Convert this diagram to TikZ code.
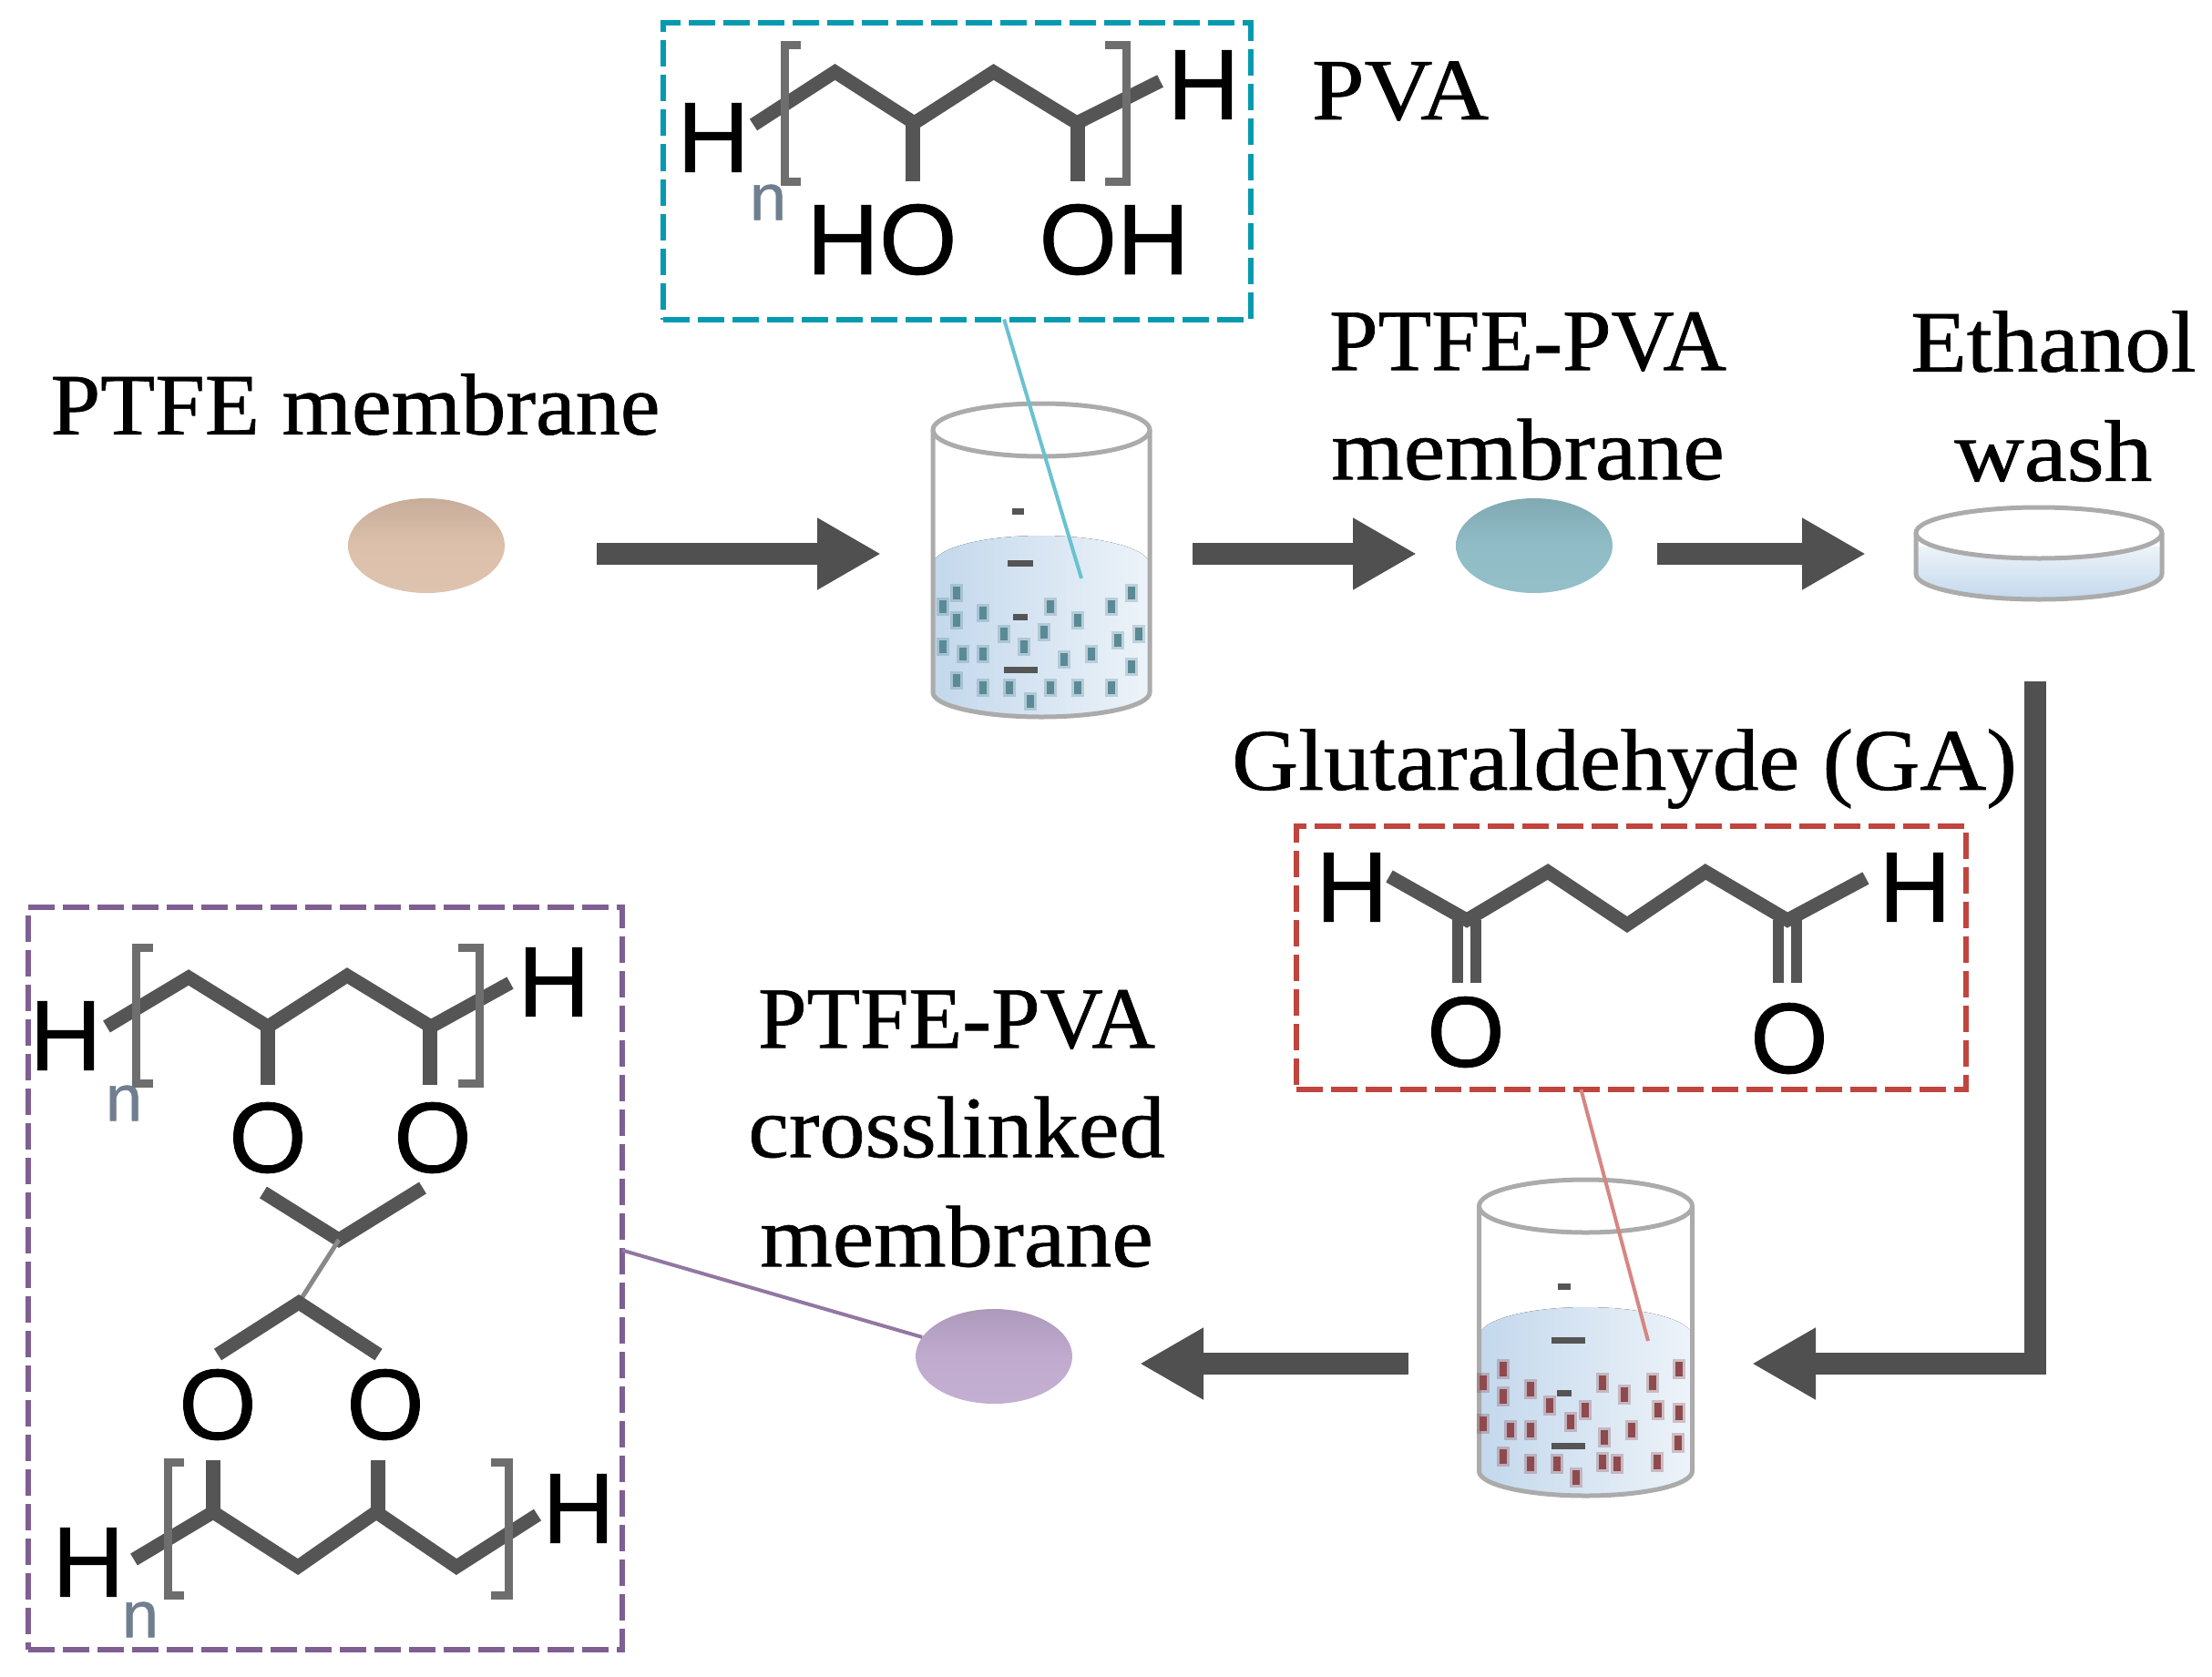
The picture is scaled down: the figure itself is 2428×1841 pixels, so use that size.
\documentclass[tikz,border=0pt]{standalone}
\usepackage{graphicx}
\usepackage{fontspec}
\setmainfont[FakeBold=0.7]{Liberation Serif}
\newfontfamily\chemfont[FakeBold=0.7]{Liberation Sans}
\usetikzlibrary{arrows.meta,calc,shapes.geometric}
\definecolor{bondc}{HTML}{555555}
\definecolor{arrowc}{HTML}{505050}
\definecolor{rimc}{HTML}{ABABAB}
\definecolor{tealc}{HTML}{069AB0}
\definecolor{redc}{HTML}{C0453E}
\definecolor{purpc}{HTML}{7F5F92}
\definecolor{liqa}{HTML}{C3D8EC}
\definecolor{liqb}{HTML}{EDF3F9}
\definecolor{memA}{HTML}{DCC0AB}
\definecolor{memB}{HTML}{8FBCC6}
\definecolor{memC}{HTML}{C0ABCF}
\definecolor{partA}{HTML}{5A8A96}
\definecolor{partB}{HTML}{8F4A4E}
\definecolor{subc}{HTML}{6F7F90}
\newcommand{\wdn}[2]{\scalebox{#1}[1]{#2}}
\tikzset{
 txt/.style={font=\fontsize{96}{120}\selectfont,inner sep=0pt,align=center,text=black},
 atom/.style={font=\chemfont\fontsize{110}{110}\selectfont,inner sep=0pt,text=black},
 subn/.style={font=\chemfont\fontsize{72}{72}\selectfont,inner sep=0pt,text=subc},
 bond/.style={draw=bondc,line width=15pt,line join=miter,line cap=butt},
 vbond/.style={draw=bondc,line width=16pt},
 dbond/.style={draw=bondc,line width=12pt},
 brack/.style={draw=bondc!85,line width=9pt},
 flow/.style={draw=arrowc,line width=24pt,-{Triangle[length=70pt,width=74pt]}},
 dashbox/.style={draw=#1,line width=6pt,dash pattern=on 29pt off 9pt,rectangle,inner sep=0pt,outer sep=0pt,anchor=north west},
 leader/.style={draw=#1,line width=4pt},
 memb/.style={ellipse,draw=none,top color=#1!90!black,bottom color=#1!95!white,middle color=#1,minimum width=172pt,minimum height=104pt,inner sep=0pt},
 minus/.style={fill=bondc,minimum height=7pt,inner sep=0pt,rectangle},
 beakerline/.style={draw=rimc,line width=5pt},
}
\newcommand{\beaker}[5]{% cx, rimy, rx, bottomsidey, liquidsidey
 \fill[left color=liqa,right color=liqb] (#1-#3,#5) arc[start angle=180,end angle=360,x radius=#3,y radius=32] -- (#1+#3,#4) arc[start angle=0,end angle=180,x radius=#3,y radius=27] -- cycle;
 \draw[beakerline] (#1,#2) ellipse[x radius=#3,y radius=29];
 \draw[beakerline] (#1-#3,#2) -- (#1-#3,#4) arc[start angle=180,end angle=0,x radius=#3,y radius=27] -- (#1+#3,#2);
}
\begin{document}
\begin{tikzpicture}[x=1pt,y=-1pt]
\useasboundingbox (0,0) rectangle (2428,1841);

% text labels
\node[txt] (tPVA) at (1537,100) {\wdn{1.08}{PVA}};
\node[txt] (tPTFE) at (390,444) {\wdn{1.024}{PTFE membrane}};
\node[txt] (tPP) at (1677,435) {PTFE-PVA\\\wdn{1.065}{membrane}};
\node[txt] (tEth) at (2254,435) {\wdn{1.05}{Ethanol}\\\wdn{1.1}{wash}};
\node[txt] (tGA) at (1783,844) {\wdn{1.053}{Glutaraldehyde (GA)}};
\node[txt] (tCross) at (1050,1239) {PTFE-PVA\\\wdn{1.046}{crosslinked}\\\wdn{1.065}{membrane}};

% dashed boxes
\node[dashbox=tealc,minimum width=645pt,minimum height=325pt] (boxPVA) at (728,25.5) {};
\node[dashbox=redc,minimum width=735pt,minimum height=289pt] (boxGA) at (1423,907) {};
\node[dashbox=purpc,minimum width=652pt,minimum height=815pt] (boxX) at (31,996) {};

% beakers
\beaker{1143}{472}{119}{760}{620}
\beaker{1740.5}{1324}{117}{1615}{1467}

\node[minus,minimum width=13pt] (d1a) at (1117,561) {};
\node[minus,minimum width=28pt] (d1b) at (1120,618) {};
\node[minus,minimum width=16pt] (d1c) at (1120,677) {};
\node[minus,minimum width=37pt] (d1d) at (1120,735) {};
\node[minus,minimum width=14pt] (d2a) at (1717,1412) {};
\node[minus,minimum width=37pt] (d2b) at (1721,1471) {};
\node[minus,minimum width=16pt] (d2c) at (1717,1529) {};
\node[minus,minimum width=37pt] (d2d) at (1721,1587) {};

\foreach \X/\Y in {785/1275,750/1305,785/1335,850/1320,1015/1305,1083/1335,1165/1305,1215/1275,900/1365,1000/1360,1180/1378,1232/1365,750/1392,800/1408,850/1408,950/1392,1048/1420,1115/1408,1215/1435,785/1465,850/1480,915/1480,1015/1480,1083/1480,1165/1480,965/1510}{
  \fill[fill=partA,opacity=.3] ({700+\X/2.24-7},{\Y/1.96-10}) rectangle ++(14,20);
  \fill[fill=partA] ({700+\X/2.24-4},{\Y/1.96-7}) rectangle ++(8,14);
}
\foreach \X/\Y in {530/1222,908/1222,487/1250,587/1265,742/1250,850/1250,790/1275,530/1280,630/1300,705/1310,863/1310,908/1315,675/1335,487/1338,545/1352,587/1352,805/1352,747/1368,905/1380,530/1410,587/1425,645/1425,742/1420,775/1425,860/1420,685/1455}{
  \fill[fill=partB,opacity=.3] ({1380+\X/1.96-7},{880+\Y/1.96-11}) rectangle ++(14,22);
  \fill[fill=partB] ({1380+\X/1.96-4},{880+\Y/1.96-8}) rectangle ++(8,16);
}

% petri dish
\fill[top color=liqb,bottom color=liqa] (2103,600) -- (2103,630) arc[start angle=180,end angle=0,x radius=135,y radius=28] -- (2373,600) -- cycle;
\draw[beakerline,fill=white] (2238,585) ellipse[x radius=135,y radius=28];
\draw[beakerline] (2103,585) -- (2103,630) arc[start angle=180,end angle=0,x radius=135,y radius=28] -- (2373,585);

% membranes
\node[memb=memA] (mPTFE) at (468,599) {};
\node[memb=memB] (mPVA) at (1684,599) {};
\node[memb=memC] (mX) at (1091,1489) {};

% leaders
\coordinate (inA) at (1187,635);
\coordinate (inB) at (1809,1472);
\draw[leader=tealc!60] ($(boxPVA.south west)!0.58!(boxPVA.south east)$) -- (inA);
\draw[leader=redc!65] ($(boxGA.south west)!0.425!(boxGA.south east)$) -- (inB);
\draw[leader=purpc!85] ($(boxX.north east)!0.462!(boxX.south east)$) -- (mX.165);

% flow arrows
\coordinate (a1) at (655,608); \coordinate (b1) at (967,608);
\coordinate (a2) at (1309,608); \coordinate (b2) at (1555,608);
\coordinate (a3) at (1819,608); \coordinate (b3) at (2048,608);
\coordinate (a4) at (2234,748); \coordinate (c4) at (2234,1497); \coordinate (b4) at (1923,1497);
\coordinate (a5) at (1546,1497); \coordinate (b5) at (1251,1497);
\draw[flow] (a1) -- (b1);
\draw[flow] (a2) -- (b2);
\draw[flow] (a3) -- (b3);
\draw[flow] (a4) -- (c4) -- (b4);
\draw[flow] (a5) -- (b5);

% PVA structure
\draw[bond] (827,137) -- (916.5,79) -- (1003.6,135) -- (1090.6,79) -- (1182,135) -- (1273.6,89);
\draw[vbond] (1002,135) -- (1002,199);
\draw[vbond] (1183,135) -- (1183,199);
\draw[brack] (879,50) -- (861,50) -- (861,199) -- (879,199);
\draw[brack] (1213,50) -- (1236,50) -- (1236,199) -- (1213,199);
\node[atom] (h1) at (783,151) {H};
\node[atom] (h2) at (1321,93) {H};
\node[atom] (ho) at (968,263) {HO};
\node[atom] (oh) at (1223,263) {OH};
\node[subn] (n1) at (843,222) {n};

% GA structure
\draw[bond] (1525,962) -- (1610,1010) -- (1699,957) -- (1786,1015) -- (1872,957) -- (1962,1010) -- (2048,964);
\draw[dbond] (1600,1010) -- (1600,1079);
\draw[dbond] (1620,1010) -- (1620,1079);
\draw[dbond] (1952,1010) -- (1952,1079);
\draw[dbond] (1972,1010) -- (1972,1079);
\node[atom] (h3) at (1484,974) {H};
\node[atom] (h4) at (2102,974) {H};
\node[atom] (o1) at (1609,1133) {O};
\node[atom] (o2) at (1964,1140) {O};

% crosslinked structure
\draw[bond] (117,1127) -- (207,1073) -- (294,1127) -- (381,1071) -- (473,1127) -- (560,1079);
\draw[vbond] (294,1127) -- (294,1191);
\draw[vbond] (472,1127) -- (472,1191);
\draw[brack] (168,1040) -- (149,1040) -- (149,1189) -- (168,1189);
\draw[brack] (503,1040) -- (526,1040) -- (526,1189) -- (503,1189);
\draw[bond] (289,1309) -- (372,1361) -- (464,1304);
\draw[draw=bondc!70,line width=5pt] (372,1361) -- (328,1430);
\draw[bond] (239,1487) -- (328,1430) -- (415.5,1487);
\draw[vbond] (234,1603) -- (234,1660);
\draw[vbond] (415,1603) -- (415,1660);
\draw[bond] (147,1712) -- (234,1660) -- (327,1720) -- (413,1660) -- (501,1720) -- (590,1663);
\draw[brack] (202,1605) -- (184,1605) -- (184,1751) -- (202,1751);
\draw[brack] (539,1605) -- (558,1605) -- (558,1751) -- (539,1751);
\node[atom] (h5) at (72,1137) {H};
\node[atom] (h6) at (608,1078) {H};
\node[atom] (o3) at (294,1249) {O};
\node[atom] (o4) at (475,1249) {O};
\node[atom] (o5) at (239,1542) {O};
\node[atom] (o6) at (423,1542) {O};
\node[atom] (h7) at (97,1715) {H};
\node[atom] (h8) at (635,1656) {H};
\node[subn] (n2) at (136,1211) {n};
\node[subn] (n3) at (154,1778) {n};
\end{tikzpicture}
\end{document}
